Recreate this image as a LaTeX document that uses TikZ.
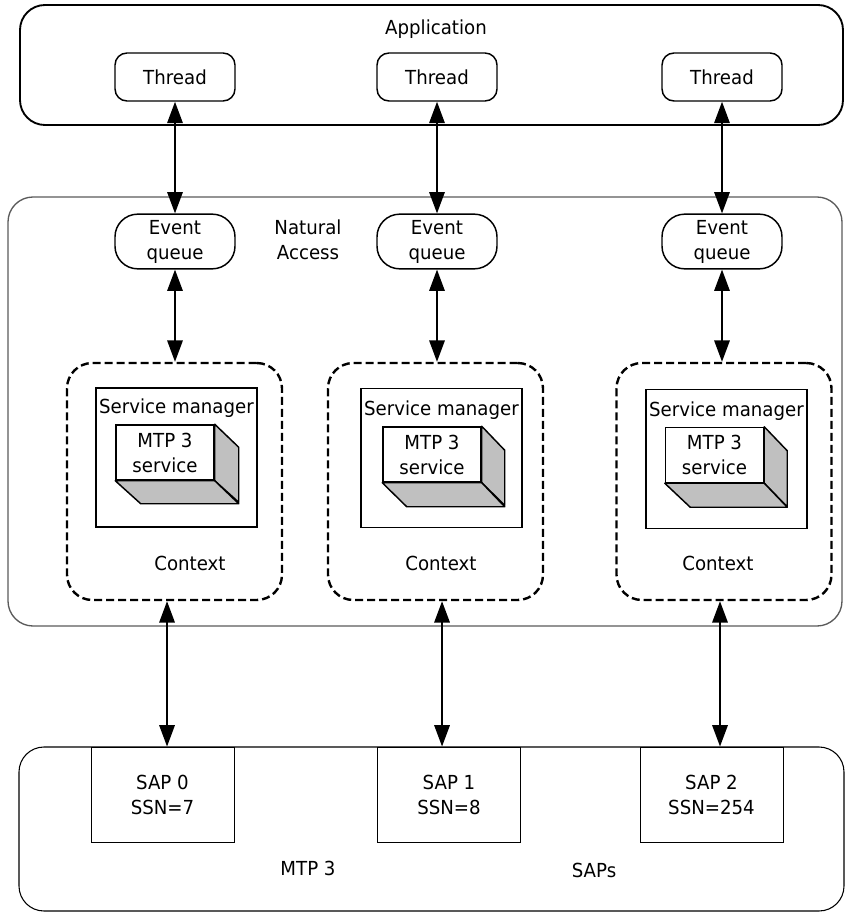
\documentclass[tikz,border=0pt]{standalone}
\usepackage{fontspec}
\setmainfont{DejaVu Sans}[FakeStretch=0.94]
\usetikzlibrary{arrows.meta}
\definecolor{boxgray}{RGB}{192,192,192}
\definecolor{natgray}{RGB}{90,90,90}
\tikzset{
  every node/.style={font=\fontsize{14.5}{18.75}\selectfont, align=center},
  thread/.style={draw, line width=1.1pt, rounded corners=9pt, minimum width=90pt, minimum height=36pt, inner sep=0pt},
  queue/.style={draw, line width=1.1pt, rounded corners=17pt, minimum width=90pt, minimum height=41pt, inner sep=0pt},
  ctxbox/.style={draw, line width=1.8pt, dash pattern=on 6pt off 3pt, rounded corners=19pt, minimum width=161.25pt, minimum height=177.75pt, inner sep=0pt},
  mgrbox/.style={draw, line width=0.9pt, minimum width=120.75pt, minimum height=104.25pt, inner sep=0pt},
  svcbox/.style={draw, fill=white, line width=1.1pt, minimum width=73.5pt, minimum height=41.25pt, inner sep=0pt},
  sideface/.style={draw, fill=boxgray, line width=1.1pt, line join=round},
  sapbox/.style={draw, fill=white, line width=0.7pt, minimum width=107.25pt, minimum height=71.25pt, inner sep=0pt},
  link/.style={line width=1.5pt, {Triangle[length=16pt,width=11.5pt]}-{Triangle[length=16pt,width=11.5pt]}},
}
\begin{document}
\begin{tikzpicture}[x=0.75pt,y=-0.75pt]
\useasboundingbox (0,0) rectangle (845,913);

% application
\draw[line width=1.4pt, rounded corners=18.75pt] (20,5) rectangle (843,125);
\node (app) at (436,29) {Application};
\node[thread] (thr1) at (175,77) {Thread};
\node[thread] (thr2) at (437,77) {Thread};
\node[thread] (thr3) at (722,77) {Thread};

% natural access
\draw[draw=natgray, line width=1pt, rounded corners=18.75pt] (8,197) rectangle (842,626);
\node (nat) at (308,240) {Natural\\Access};
\node[queue] (evq1) at (175,241.5) {Event\\queue};
\node[queue] (evq2) at (437,241.5) {Event\\queue};
\node[queue] (evq3) at (722,241.5) {Event\\queue};

\node[ctxbox] (ctx1) at (174.5,481.5) {};
\node[ctxbox] (ctx2) at (435.5,481.5) {};
\node[ctxbox] (ctx3) at (724,481.5) {};
\node (ctxt1) at (190,563) {Context};
\node (ctxt2) at (441,563) {Context};
\node (ctxt3) at (718,563) {Context};

\node[mgrbox] (mgr1) at (176.5,457.5) {};
\node[mgrbox] (mgr2) at (441.5,458) {};
\node[mgrbox] (mgr3) at (726.5,459) {};
\node (mgrt1) at (176.5,408) {Service manager};
\node (mgrt2) at (441.5,410) {Service manager};
\node (mgrt3) at (726.5,411) {Service manager};

\node[svcbox] (svc1) at (165,452.5) {MTP 3\\service};
\filldraw[sideface] (svc1.north east) -- ++(24,23) -- ++(0,55) -- (svc1.south east) -- cycle;
\filldraw[sideface] (svc1.south west) -- (svc1.south east) -- ++(24,23) -- ++(-98,0) -- cycle;
\node[svcbox] (svc2) at (432,454.5) {MTP 3\\service};
\filldraw[sideface] (svc2.north east) -- ++(23,24) -- ++(0,55) -- (svc2.south east) -- cycle;
\filldraw[sideface] (svc2.south west) -- (svc2.south east) -- ++(23,24) -- ++(-98,0) -- cycle;
\node[svcbox] (svc3) at (714.5,455) {MTP 3\\service};
\filldraw[sideface] (svc3.north east) -- ++(23,24) -- ++(0,56) -- (svc3.south east) -- cycle;
\filldraw[sideface] (svc3.south west) -- (svc3.south east) -- ++(23,24) -- ++(-97,0) -- cycle;

% mtp 3
\draw[line width=0.8pt, rounded corners=18.75pt] (19,747) rectangle (844,911);
\node[sapbox] (sap0) at (162.5,794.5) {SAP 0\\SSN=7};
\node[sapbox] (sap1) at (449,794.5) {SAP 1\\SSN=8};
\node[sapbox] (sap2) at (711.5,794.5) {SAP 2\\SSN=254};
\node (mtp) at (308,868) {MTP 3};
\node (saps) at (594,870) {SAPs};

% links
\draw[link] (thr1) -- (evq1);
\draw[link] (thr2) -- (evq2);
\draw[link] (thr3) -- (evq3);
\draw[link] (evq1) -- (evq1 |- ctx1.north);
\draw[link] (evq2) -- (evq2 |- ctx2.north);
\draw[link] (evq3) -- (evq3 |- ctx3.north);
\coordinate (lnk0) at ([xshift=-5.6pt]ctx1.south);
\coordinate (lnk1) at ([xshift=4.9pt]ctx2.south);
\coordinate (lnk2) at ([xshift=-3pt]ctx3.south);
\draw[link] (lnk0) -- (lnk0 |- sap0.north);
\draw[link] (lnk1) -- (lnk1 |- sap1.north);
\draw[link] (lnk2) -- (lnk2 |- sap2.north);
\end{tikzpicture}
\end{document}
